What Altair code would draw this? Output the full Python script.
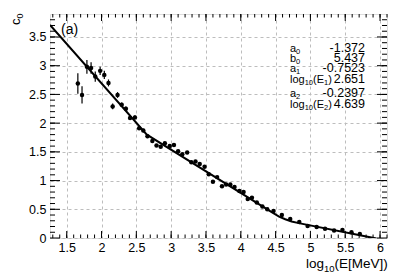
import altair as alt
import pandas as pd

# ---- data ----
x_vals = [1.66, 1.72, 1.79, 1.85, 1.91, 1.98, 2.04, 2.10, 2.16, 2.23, 2.29, 2.35, 2.41, 2.48,
          2.54, 2.60, 2.66, 2.73, 2.79, 2.85, 2.91, 2.98, 3.04, 3.10, 3.16, 3.23, 3.29, 3.35,
          3.41, 3.48, 3.54, 3.60, 3.66, 3.73, 3.79, 3.85, 3.91, 3.98, 4.04, 4.10, 4.16, 4.23,
          4.31, 4.38, 4.47, 4.59, 4.71, 4.84, 4.96, 5.09, 5.21, 5.34, 5.46, 5.59, 5.71]
y_vals = [2.69, 2.49, 2.98, 2.96, 2.81, 2.91, 2.84, 2.70, 2.29, 2.49, 2.32, 2.25, 2.09, 2.10,
          1.91, 1.87, 1.77, 1.69, 1.61, 1.59, 1.65, 1.60, 1.62, 1.51, 1.46, 1.49, 1.32, 1.33,
          1.29, 1.24, 1.11, 0.98, 1.06, 0.90, 0.93, 0.93, 0.89, 0.82, 0.80, 0.68, 0.70, 0.62,
          0.55, 0.50, 0.47, 0.40, 0.33, 0.28, 0.21, 0.19, 0.16, 0.13, 0.14, 0.10, 0.07]
y_errs = [0.18, 0.15, 0.12, 0.10, 0.09, 0.07, 0.07, 0.06, 0.05, 0.05, 0.04, 0.04, 0.035, 0.035,
          0.03, 0.03, 0.03, 0.03, 0.025, 0.025, 0.025, 0.025, 0.025, 0.02, 0.02, 0.02, 0.02, 0.02,
          0.02, 0.02, 0.02, 0.02, 0.02, 0.02, 0.02, 0.02, 0.02, 0.02, 0.02, 0.02, 0.02, 0.02,
          0.02, 0.02, 0.02, 0.02, 0.02, 0.02, 0.02, 0.02, 0.02, 0.02, 0.02, 0.02, 0.02]

fit_x = [1.26, 2.651, 4.45, 4.55, 4.639, 4.73, 4.85, 5.95]
fit_y = [3.708, 1.800, 0.445, 0.372, 0.326, 0.287, 0.255, -0.01]

# parameter labels as (text, is_subscript) pieces
param_names = [
    [("a", 0), ("0", 1)],
    [("b", 0), ("0", 1)],
    [("a", 0), ("1", 1)],
    [("log", 0), ("10", 1), ("(E", 0), ("1", 1), (")", 0)],
    [("a", 0), ("2", 1)],
    [("log", 0), ("10", 1), ("(E", 0), ("2", 1), (")", 0)],
]
param_values = ["-1.372", "5.437", "-0.7523", "2.651", "-0.2397", "4.639"]
x_title = [("log", 0), ("10", 1), ("(E[MeV])", 0)]
y_title = [("c", 0), ("0", 1)]

x_major = [1.5, 2, 2.5, 3, 3.5, 4, 4.5, 5, 5.5, 6]
y_major = [0, 0.5, 1, 1.5, 2, 2.5, 3, 3.5]
x_minor = [round(1.3 + 0.1 * i, 2) for i in range(49)]
y_minor = [round(0.1 * i, 2) for i in range(1, 39)]

W, H = 337, 224
FONT = "Liberation Sans"
xs = alt.Scale(domain=[1.26, 6.1], nice=False, zero=False)
ys = alt.Scale(domain=[0, 3.9], nice=False, zero=False)

pts = pd.DataFrame({"x": x_vals, "y": y_vals, "e": y_errs})
pts["lo"] = pts["y"] - pts["e"]
pts["hi"] = pts["y"] + pts["e"]
fit = pd.DataFrame({"x": fit_x, "y": fit_y})

xaxis = alt.Axis(values=x_major, format="~g", grid=True, gridDash=[3, 3], gridColor="#bdbdbd",
                 ticks=False, domain=False, labelFontSize=12.5, labelPadding=3, labelFont=FONT,
                 labelColor="black", labelOverlap=False, title=None)
yaxis = alt.Axis(values=y_major, format="~g", grid=True, gridDash=[3, 3], gridColor="#bdbdbd",
                 ticks=False, domain=False, labelFontSize=12.5, labelPadding=4, labelFont=FONT,
                 labelColor="black", labelOverlap=False, title=None)

errbars = alt.Chart(pts).mark_rule(color="black", strokeWidth=1.2).encode(
    x=alt.X("x:Q", scale=xs, axis=xaxis),
    y=alt.Y("lo:Q", scale=ys, axis=yaxis),
    y2="hi:Q",
)
points = alt.Chart(pts).mark_circle(color="black", opacity=1, size=20).encode(
    x=alt.X("x:Q", scale=xs, axis=xaxis), y=alt.Y("y:Q", scale=ys, axis=yaxis)
)
line = alt.Chart(fit).mark_line(color="black", strokeWidth=2, clip=True).encode(
    x=alt.X("x:Q", scale=xs, axis=xaxis), y=alt.Y("y:Q", scale=ys, axis=yaxis)
)


def ticks_x(vals, length):
    d = pd.DataFrame({"v": vals})
    b = alt.Chart(d).mark_rule(color="black", strokeWidth=1).encode(
        x=alt.X("v:Q", scale=xs, axis=xaxis), y=alt.value(H), y2=alt.value(H - length))
    t = alt.Chart(d).mark_rule(color="black", strokeWidth=1).encode(
        x=alt.X("v:Q", scale=xs, axis=xaxis), y=alt.value(0), y2=alt.value(length))
    return [b, t]


def ticks_y(vals, length):
    d = pd.DataFrame({"v": vals})
    l = alt.Chart(d).mark_rule(color="black", strokeWidth=1).encode(
        y=alt.Y("v:Q", scale=ys, axis=yaxis), x=alt.value(0), x2=alt.value(length))
    r = alt.Chart(d).mark_rule(color="black", strokeWidth=1).encode(
        y=alt.Y("v:Q", scale=ys, axis=yaxis), x=alt.value(W), x2=alt.value(W - length))
    return [l, r]


tick_layers = ticks_x(x_major, 7) + ticks_x(x_minor, 3.5) + ticks_y(y_major, 10) + ticks_y(y_minor, 5)

# approximate advance widths (em) of Liberation Sans
ADV = {"a": .556, "b": .556, "l": .222, "o": .556, "g": .556, "(": .333, ")": .333, "E": .667,
       "[": .278, "]": .278, "M": .833, "e": .556, "V": .667, "c": .5, "-": .333, ".": .278}


def adv(s, size):
    return sum(ADV.get(ch, .556) for ch in s) * size


def rich(pieces, x0, y0, size, sub_size, drop, angle=0):
    layers = []
    pos = 0.0
    for txt, sub in pieces:
        fs = sub_size if sub else size
        off = drop if sub else 0
        if angle == 0:
            px, py = x0 + pos, y0 + off
        else:  # rotated 270: text runs upward, subscript shifts right
            px, py = x0 + off, y0 - pos
        layers.append(alt.Chart(pd.DataFrame({"t": [txt]})).mark_text(
            font=FONT, fontSize=fs, align="left", baseline="alphabetic", color="black",
            angle=angle
        ).encode(text="t:N", x=alt.value(px), y=alt.value(py)))
        pos += adv(txt, fs)
    return layers


text_layers = []
row_base = [37.5, 47.5, 57.5, 68.5, 82.5, 93.5]
for pieces, v, yb in zip(param_names, param_values, row_base):
    text_layers += rich(pieces, 240, yb, 11, 7.5, 2.5)
    text_layers.append(alt.Chart(pd.DataFrame({"t": [v]})).mark_text(
        font=FONT, fontSize=12.5, align="right", baseline="alphabetic", color="black"
    ).encode(text="t:N", x=alt.value(315), y=alt.value(yb)))

title_layers = rich(x_title, 256, 254, 13.5, 9.5, 4) + rich(y_title, -30, 11, 13, 9, 3, angle=270)

tag = alt.Chart(pd.DataFrame({"t": ["(a)"]})).mark_text(
    font=FONT, fontSize=14, align="left", baseline="middle", color="black"
).encode(text="t:N", x=alt.value(11), y=alt.value(16))

chart = alt.layer(errbars, points, line, *tick_layers, tag, *text_layers, *title_layers).properties(
    width=W, height=H,
    autosize=alt.AutoSizeParams(type="none"),
    padding={"left": 42, "top": 6, "right": 4, "bottom": 35},
).configure_view(stroke="black", strokeWidth=1.5).configure_axis(
    labelOverlap=False
).configure(background="white")

chart.save("out.html", embed_options={"renderer": "svg", "actions": False})
